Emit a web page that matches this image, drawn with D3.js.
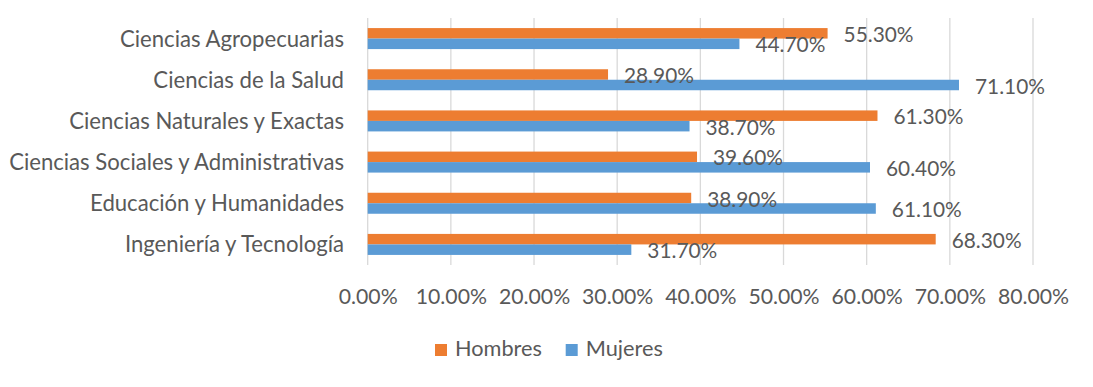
<!DOCTYPE html>
<html><head><meta charset="utf-8">
<script src="https://cdn.jsdelivr.net/npm/d3@7"></script>
<style>body{margin:0;background:#fff}svg{display:block}text{font-family:Lato,"Open Sans",sans-serif;fill:#595959}</style>
</head><body>
<svg id="c" width="1093" height="387"></svg>
<script>
const categories = ["Ciencias Agropecuarias","Ciencias de la Salud","Ciencias Naturales y Exactas","Ciencias Sociales y Administrativas","Educación y Humanidades","Ingeniería y Tecnología"];
const seriesNames = ["Hombres","Mujeres"];
const hombres = [55.3, 28.9, 61.3, 39.6, 38.9, 68.3];
const mujeres = [44.7, 71.1, 38.7, 60.4, 61.1, 31.7];
const ticks = [0,10,20,30,40,50,60,70,80];
const colors = ["#ED7D31","#5B9BD5"];

const svg = d3.select("#c");
const x = d3.scaleLinear().domain([0,80]).range([367.7,1033]);
const y = d3.scaleBand().domain(categories).range([18,265]).padding(0);
const barH = 10.5;
const inner = d3.scaleBand().domain(seriesNames).range([y.bandwidth()/2-barH, y.bandwidth()/2+barH]).padding(0);

function fit(sel, text, target, base){
  const t = svg.append("text").style("font-size", base+"px").text(text);
  const w = t.node().getComputedTextLength(); t.remove();
  return base*target/w;
}
const catSize = fit(svg, "Ciencias Sociales y Administrativas", 335, 20);
const valSize = fit(svg, "55.30%", 70, 20);
const tickSize = fit(svg, "0.00%", 59, 20);
const legSize = fit(svg, "Hombres", 87, 20);

// gridlines
svg.append("g").selectAll("line").data(ticks).join("line")
  .attr("x1", d=>x(d)).attr("x2", d=>x(d)).attr("y1",18).attr("y2",265)
  .attr("stroke","#D9D9D9").attr("stroke-width",1.3);

// x axis labels
const xAxis = d3.axisBottom(x).tickValues(ticks).tickSize(0).tickFormat(d=>d3.format(".2f")(d)+"%");
const gx = svg.append("g").attr("transform","translate(0,286)").call(xAxis);
gx.select(".domain").remove();
gx.selectAll("text").style("font-size", tickSize+"px").attr("fill","#595959").attr("dy","0.71em");

// y axis labels
const yAxis = d3.axisLeft(y).tickSize(0).tickPadding(0);
const gy = svg.append("g").attr("transform","translate(344,0)").call(yAxis);
gy.select(".domain").remove();
gy.selectAll("text").style("font-size", catSize+"px").attr("fill","#595959").attr("dy","0.36em");

const data = [];
categories.forEach((c,i)=>{
  data.push({c, s:"Hombres", v:hombres[i], col:colors[0]});
  data.push({c, s:"Mujeres", v:mujeres[i], col:colors[1]});
});

svg.append("g").selectAll("rect").data(data).join("rect")
  .attr("x", x(0)).attr("y", d=>y(d.c)+inner(d.s))
  .attr("width", d=>x(d.v)-x(0)).attr("height", inner.bandwidth())
  .attr("fill", d=>d.col);

svg.append("g").selectAll("text").data(data).join("text")
  .attr("x", d=>x(d.v)+16)
  .attr("y", d=>y(d.c)+inner(d.s)+inner.bandwidth()/2+8.5)
  .style("font-size", valSize+"px")
  .text(d=>d3.format(".2f")(d.v)+"%");

// legend
const lx = [435, 565.7];
const lg = svg.append("g").selectAll("g").data(seriesNames).join("g")
  .attr("transform",(d,i)=>`translate(${lx[i]},344)`);
lg.append("rect").attr("width",12).attr("height",12).attr("fill",(d,i)=>colors[i]);
lg.append("text").attr("x",20).attr("y",12).style("font-size",legSize+"px").text(d=>d);
</script>
</body></html>
